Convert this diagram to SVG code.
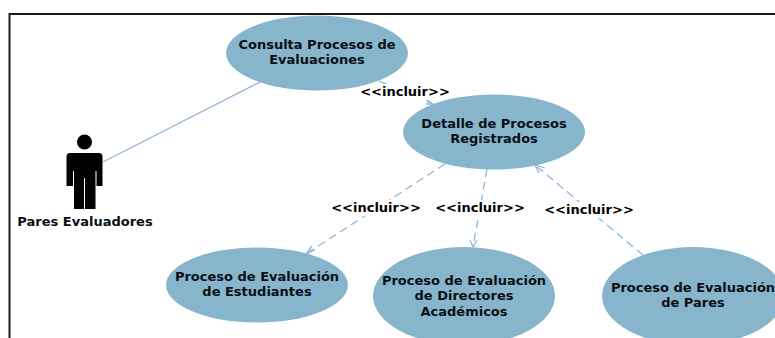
<svg xmlns="http://www.w3.org/2000/svg" width="775" height="338" viewBox="0 0 775 338">
<style>
.u{fill:#87b5cc}
.t{font-family:"DejaVu Sans",Verdana,sans-serif;font-weight:700;font-size:13px;fill:#0a0f14;text-anchor:middle}
.l{font-family:"DejaVu Sans",Verdana,sans-serif;font-weight:700;font-size:13px;fill:#000;text-anchor:middle}
.c{fill:none;stroke:#8fb7dc;stroke-width:1.300}
.d{stroke-dasharray:8 5}
.b{fill:#fff}
</style>
<rect width="775" height="338" fill="#fff"/>
<path d="M9.500 338V14H775" fill="none" stroke="#1a1a1a" stroke-width="2"/>
<g id="connectors">
<path class="c" d="M260 82L103 162"/>
<path class="c d" d="M379 81L433 104"/>
<path class="c" d="M424 98L433 104L426 104"/>
<path class="c d" d="M445 164L306 254"/>
<path class="c" d="M306 254L315 250M306 254L312 246"/>
<path class="c d" d="M487 169L473 247"/>
<path class="c" d="M473 247L470 240M473 247L477 240"/>
<path class="c d" d="M643 255L535 165"/>
<path class="c" d="M535 165L545 168M535 165L539 173"/>
<rect class="b" x="360" y="84" width="90" height="16"/>
<rect class="b" x="331" y="200" width="90" height="16"/>
<rect class="b" x="435" y="200" width="90" height="16"/>
<rect class="b" x="544" y="202" width="90" height="16"/>
</g>
<g id="uc1"><ellipse class="u" cx="317" cy="53" rx="91" ry="37.500"/><text class="t" x="317" y="49">Consulta Procesos de</text><text class="t" x="317" y="64">Evaluaciones</text></g>
<g id="uc2"><ellipse class="u" cx="494" cy="132" rx="91" ry="37.500"/><text class="t" x="494" y="128">Detalle de Procesos</text><text class="t" x="494" y="143">Registrados</text></g>
<g id="uc3"><ellipse class="u" cx="257" cy="285" rx="91" ry="37.500"/><text class="t" x="257" y="281">Proceso de Evaluación</text><text class="t" x="257" y="296">de Estudiantes</text></g>
<g id="uc4"><ellipse class="u" cx="464" cy="296" rx="91" ry="49"/><text class="t" x="464" y="285">Proceso de Evaluación</text><text class="t" x="464" y="300">de Directores</text><text class="t" x="464" y="316">Académicos</text></g>
<g id="uc5"><ellipse class="u" cx="693" cy="296" rx="91" ry="49"/><text class="t" x="693" y="292">Proceso de Evaluación</text><text class="t" x="693" y="307">de Pares</text></g>
<g id="actor">
<circle cx="84.500" cy="142" r="7.500"/>
<path d="M70 153Q66.500 153 66.500 157V186H73V171H74V209H84V178H85V209H95.500V171H96.500V186H102.500V157Q102.500 153 99 153Z"/>
<text class="t" x="85" y="226">Pares Evaluadores</text>
</g>
<g id="labels">
<text class="l" x="405" y="96">&lt;&lt;incluir&gt;&gt;</text>
<text class="l" x="376" y="212">&lt;&lt;incluir&gt;&gt;</text>
<text class="l" x="480" y="212">&lt;&lt;incluir&gt;&gt;</text>
<text class="l" x="589" y="214">&lt;&lt;incluir&gt;&gt;</text>
</g>
</svg>
